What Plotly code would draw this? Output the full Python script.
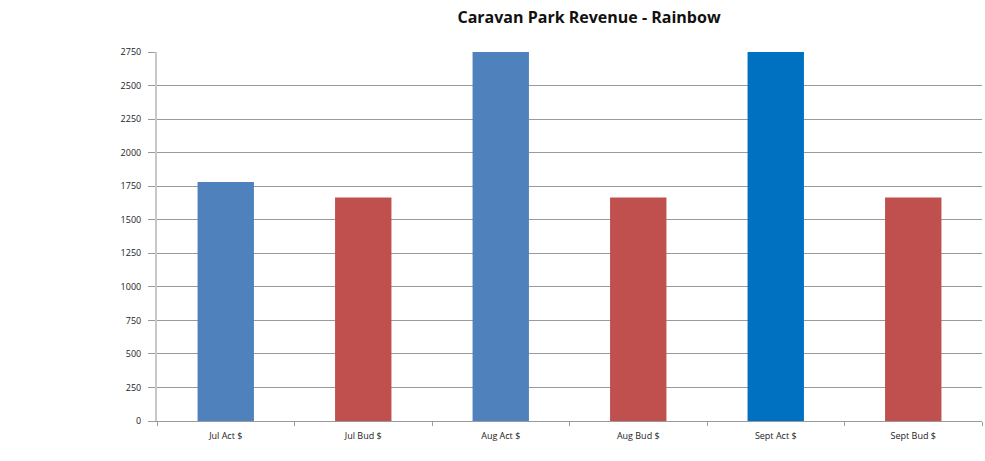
import plotly.graph_objects as go

categories = ["Jul Act $", "Jul Bud $", "Aug Act $", "Aug Bud $", "Sept Act $", "Sept Bud $"]
values = [1781, 1665, 3050, 1665, 3120, 1665]
bar_colors = ["#4F81BD", "#C0504D", "#4F81BD", "#C0504D", "#0070C0", "#C0504D"]
y_ticks = list(range(0, 2751, 250))

fig = go.Figure(go.Bar(
    x=categories, y=values, marker=dict(color=bar_colors, line=dict(width=0)),
    width=0.41, cliponaxis=True, hoverinfo="x+y"))

fig.update_layout(
    width=985, height=461,
    margin=dict(l=157, r=3, t=52, b=40),
    paper_bgcolor="white", plot_bgcolor="white",
    title=dict(text="<b>Caravan Park Revenue - Rainbow</b>", x=0.598, xanchor="center",
               y=0.962, yanchor="middle",
               font=dict(family="Open Sans", size=16, color="#111111")),
    font=dict(family="Open Sans", size=9, color="#333333"),
    showlegend=False,
    bargap=0.59,
)
fig.update_yaxes(range=[0, 2750], tickvals=y_ticks, showgrid=True, gridcolor="#9A9A9A",
                 gridwidth=1, zeroline=False, showline=True, linecolor="#C8C8C8", linewidth=2,
                 ticks="outside", ticklen=7, tickcolor="#9A9A9A", ticklabelstandoff=5,
                 tickfont=dict(size=9, color="#222222"))
fig.update_xaxes(showline=True, linecolor="#9A9A9A", linewidth=1, ticks="outside",
                 tickson="boundaries", ticklen=4, tickcolor="#9A9A9A", showgrid=False,
                 ticklabelstandoff=6,
                 tickfont=dict(size=9, color="#222222"))

fig.write_html("out.html")
